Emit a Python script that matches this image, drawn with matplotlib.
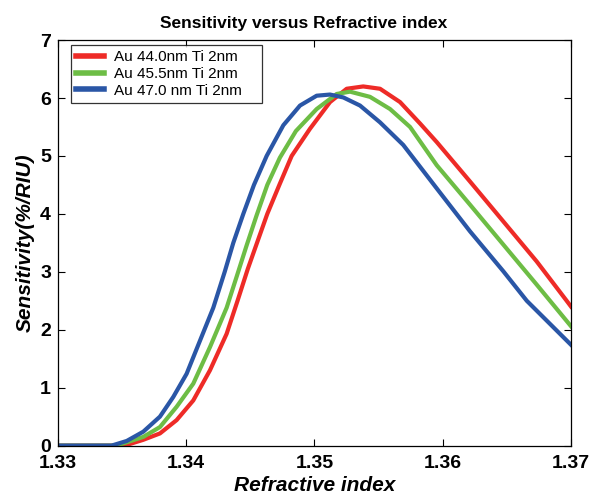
import matplotlib
matplotlib.use("Agg")
import matplotlib.pyplot as plt

plt.rcParams["font.family"] = ["Liberation Sans", "DejaVu Sans"]

# Values
n_red = [1.330, 1.3352, 1.33665, 1.33795, 1.33925, 1.34055, 1.34185, 1.34315,
         1.34400, 1.34480, 1.34555, 1.34632, 1.34726, 1.34822, 1.34965, 1.35121,
         1.35251, 1.35380, 1.35511, 1.35667, 1.35823, 1.35953, 1.36212, 1.36472,
         1.36732, 1.36966, 1.370]
s_red = [0.0, 0.0, 0.10, 0.21, 0.44, 0.78, 1.30, 1.93,
         2.50, 3.05, 3.52, 4.00, 4.50, 5.00, 5.47, 5.93,
         6.16, 6.20, 6.16, 5.93, 5.56, 5.24, 4.56, 3.87,
         3.18, 2.50, 2.40]

n_green = [1.330, 1.33457, 1.33665, 1.33795, 1.33925, 1.34055, 1.34185, 1.34315,
           1.34395, 1.34470, 1.34548, 1.34632, 1.34730, 1.34855, 1.35017, 1.35173,
           1.35277, 1.35433, 1.35589, 1.35745, 1.35953, 1.36212, 1.36472, 1.36732,
           1.370]
s_green = [0.0, 0.0, 0.15, 0.32, 0.67, 1.07, 1.70, 2.38,
           2.93, 3.45, 3.97, 4.50, 4.97, 5.43, 5.81, 6.07,
           6.11, 6.02, 5.81, 5.50, 4.84, 4.16, 3.47, 2.78,
           2.06]

n_blue = [1.330, 1.33418, 1.33536, 1.33665, 1.33795, 1.33899, 1.34003, 1.34107,
          1.34211, 1.34300, 1.34367, 1.34445, 1.34528, 1.34627, 1.34757, 1.34887,
          1.35017, 1.35121, 1.35225, 1.35355, 1.35511, 1.35692, 1.35953, 1.36212,
          1.36472, 1.36655, 1.370]
s_blue = [0.0, 0.0, 0.08, 0.24, 0.50, 0.84, 1.24, 1.81,
          2.38, 3.00, 3.50, 4.00, 4.50, 5.00, 5.53, 5.87,
          6.04, 6.06, 6.01, 5.87, 5.58, 5.19, 4.44, 3.70,
          3.01, 2.50, 1.74]

labels = ["Au 44.0nm Ti 2nm", "Au 45.5nm Ti 2nm", "Au 47.0 nm Ti 2nm"]
colors = ["#ee2b27", "#6dbd45", "#2a56a6"]
xticks = [1.33, 1.34, 1.35, 1.36, 1.37]

fig = plt.figure(figsize=(5.94, 4.95), dpi=100)
ax = fig.add_axes([0.0976, 0.0998, 0.8637, 0.8192])

for n, s, lab, c in zip([n_red, n_green, n_blue], [s_red, s_green, s_blue], labels, colors):
    ax.plot(n, s, color=c, linewidth=3.0, label=lab, solid_joinstyle="round")

ax.set_xlim(1.33, 1.37)
ax.set_ylim(0, 7)
ax.set_xticks(xticks)
ax.set_xticklabels([f"{t:.2f}" for t in xticks])
ax.set_yticks(range(8))

ax.tick_params(direction="in", top=True, right=True, length=5, width=0.8, labelsize=14)
ax.tick_params(axis="x", pad=7)
ax.tick_params(axis="y", pad=5)
for lab in ax.get_xticklabels() + ax.get_yticklabels():
    lab.set_fontweight("bold")
for sp in ax.spines.values():
    sp.set_linewidth(0.9)

ax.set_xlabel("Refractive index", fontsize=15, fontweight="bold", style="italic", labelpad=3)
ax.set_ylabel("Sensitivity(%/RIU)", fontsize=15, fontweight="bold", style="italic", labelpad=4)
ax.set_title("Sensitivity versus Refractive index", fontsize=12.5, fontweight="bold",
             pad=9, x=0.478)

# legend box stretched to the width seen in the reference
leg = ax.legend(loc="upper left", bbox_to_anchor=(0.0253, 0.3, 0.3723, 0.688),
                mode="expand", borderaxespad=0, fontsize=11, frameon=True,
                fancybox=False, handlelength=1.8, handletextpad=0.65,
                labelspacing=0.18, borderpad=0.35)
leg.get_frame().set_edgecolor("black")
leg.get_frame().set_linewidth(0.9)
for h in leg.get_lines():
    h.set_linewidth(4)

fig.savefig("out.png", dpi=100)
